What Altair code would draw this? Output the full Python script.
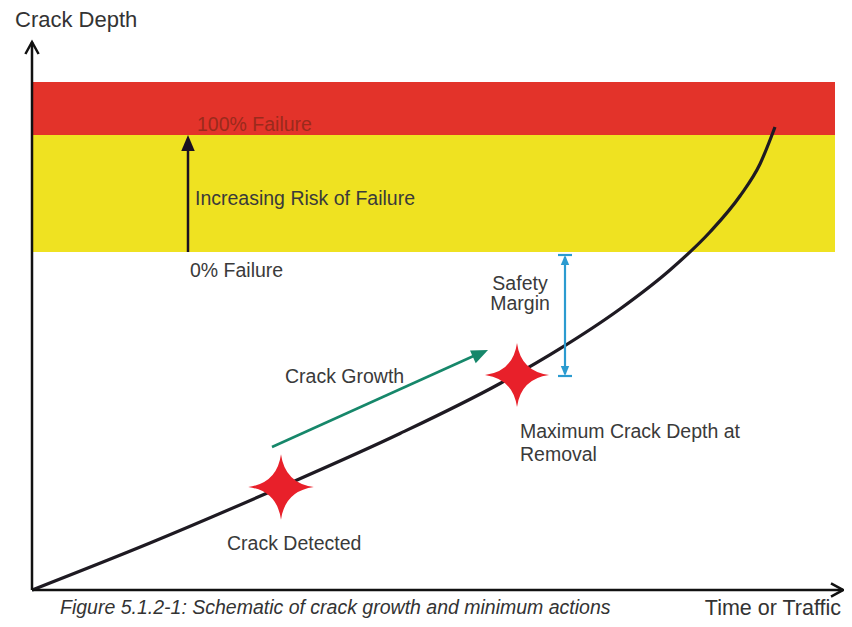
import altair as alt
import pandas as pd

# ---- data (schematic units: origin at the axes corner) ----
curve_x = [0, 118, 249, 368, 468, 528, 588, 638, 678, 708, 728, 743]
curve_y = [0, 47, 103, 156.5, 206.5, 241.3, 281, 320, 358, 394, 426, 463]

band_names = ["100% Failure", "Increasing Risk"]
band_x0 = [0, 0]
band_x1 = [803, 803]
band_y0 = [455, 338]
band_y1 = [508, 455]
band_colors = ["#e3332a", "#efe221"]

seg_x = [0, 0, 156, 240, 533, 526, 526]
seg_y = [0, 0, 338, 143, 216, 335, 214]
seg_x2 = [0, 811, 156, 446, 533, 540, 540]
seg_y2 = [548, 0, 445, 236, 333, 335, 214]
seg_color = ["#111111", "#111111", "#1a1022", "#16876a", "#2b9bd0", "#2b9bd0", "#2b9bd0"]
seg_w = [2.5, 2.5, 2.5, 2.5, 2.2, 2.2, 2.2]

chev_x = [811, 0]
chev_y = [0, 548]
chev_angle = [90, 0]

head_x = [156, 456, 533, 533]
head_y = [455, 240, 335, 214]
head_angle = [0, 65.8, 0, 180]
head_size = [1024, 1100, 400, 400]
head_color = ["#1a1022", "#16876a", "#2b9bd0", "#2b9bd0"]

star_labels = ["Crack Detected", "Maximum Crack Depth at Removal"]
star_x = [249, 485]
star_y = [103, 215]
star_size = [4300, 4100]

label_text = ["100% Failure", "Increasing Risk of Failure", "0% Failure", "Crack Growth",
              "Maximum Crack Depth at", "Removal", "Crack Detected"]
label_x = [165, 163, 158, 253, 488, 488, 195]
label_y = [459, 385, 313, 207, 152, 129, 40]
label_color = ["#9a2a1c", "#3a3a3a", "#3a3a3a", "#3a3a3a", "#3a3a3a", "#3a3a3a", "#3a3a3a"]

center_text = ["Safety", "Margin"]
center_x = [488, 488]
center_y = [300, 280]

y_title = "Crack Depth"
x_title = "Time or Traffic"
caption = "Figure 5.1.2-1: Schematic of crack growth and minimum actions"

# ---- scales ----
X = lambda f: alt.X(f, type="quantitative", scale=alt.Scale(domain=[-24, 812], nice=False, zero=False), axis=None)
Y = lambda f: alt.Y(f, type="quantitative", scale=alt.Scale(domain=[-29, 582], nice=False, zero=False), axis=None)

bands = pd.DataFrame({"name": band_names, "x": band_x0, "x2": band_x1, "y": band_y0, "y2": band_y1, "c": band_colors})
curve = pd.DataFrame({"x": curve_x, "y": curve_y})
segs = pd.DataFrame({"x": seg_x, "y": seg_y, "x2": seg_x2, "y2": seg_y2, "c": seg_color, "w": seg_w})
chevs = pd.DataFrame({"x": chev_x, "y": chev_y, "a": chev_angle})
heads = pd.DataFrame({"x": head_x, "y": head_y, "a": head_angle, "s": head_size, "c": head_color})
stars = pd.DataFrame({"label": star_labels, "x": star_x, "y": star_y, "s": star_size})
labels = pd.DataFrame({"t": label_text, "x": label_x, "y": label_y, "c": label_color})
centers = pd.DataFrame({"t": center_text, "x": center_x, "y": center_y})

FONT = "Liberation Sans"

band_layer = alt.Chart(bands).mark_rect().encode(
    x=X("x"), x2="x2", y=Y("y"), y2="y2", color=alt.Color("c:N", scale=None))

curve_layer = alt.Chart(curve).mark_line(interpolate="monotone", color="#1e1a22", strokeWidth=3.2).encode(
    x=X("x"), y=Y("y"))

seg_layer = alt.Chart(segs).mark_rule().encode(
    x=X("x"), y=Y("y"), x2="x2", y2="y2",
    color=alt.Color("c:N", scale=None), strokeWidth=alt.StrokeWidth("w:Q", scale=None))

chev_layer = alt.Chart(chevs).mark_point(
    shape="M-0.55,1 L0,0 L0.55,1", filled=False, stroke="#111111", strokeWidth=2.5, size=576, opacity=1
).encode(x=X("x"), y=Y("y"), angle=alt.Angle("a:Q", scale=None))

head_layer = alt.Chart(heads).mark_point(
    shape="M0,0 L0.42,1 L-0.42,1 Z", filled=True, opacity=1, strokeWidth=0
).encode(x=X("x"), y=Y("y"), angle=alt.Angle("a:Q", scale=None),
         size=alt.Size("s:Q", scale=None), color=alt.Color("c:N", scale=None))

star_layer = alt.Chart(stars).mark_point(
    shape="M0,-1 Q0.12,-0.12 1,0 Q0.12,0.12 0,1 Q-0.12,0.12 -1,0 Q-0.12,-0.12 0,-1 Z",
    filled=True, color="#e8202a", opacity=1, strokeWidth=0
).encode(x=X("x"), y=Y("y"), size=alt.Size("s:Q", scale=None))

label_layer = alt.Chart(labels).mark_text(
    align="left", baseline="alphabetic", font=FONT, fontSize=19.5
).encode(x=X("x"), y=Y("y"), text="t:N", color=alt.Color("c:N", scale=None))

center_layer = alt.Chart(centers).mark_text(
    align="center", baseline="alphabetic", font=FONT, fontSize=19.5, color="#3a3a3a"
).encode(x=X("x"), y=Y("y"), text="t:N")

titles = pd.DataFrame({"t": [y_title], "x": [-17], "y": [563]})
ytitle_layer = alt.Chart(titles).mark_text(
    align="left", baseline="alphabetic", font=FONT, fontSize=22, color="#333333"
).encode(x=X("x"), y=Y("y"), text="t:N")

xt = pd.DataFrame({"t": [x_title], "x": [809], "y": [-25]})
xtitle_layer = alt.Chart(xt).mark_text(
    align="right", baseline="alphabetic", font=FONT, fontSize=21.5, color="#333333"
).encode(x=X("x"), y=Y("y"), text="t:N")

cap = pd.DataFrame({"t": [caption], "x": [28], "y": [-24]})
cap_layer = alt.Chart(cap).mark_text(
    align="left", baseline="alphabetic", font=FONT, fontSize=19.5, fontStyle="italic", color="#333333"
).encode(x=X("x"), y=Y("y"), text="t:N")

chart = alt.layer(
    band_layer, curve_layer, seg_layer, chev_layer, head_layer, star_layer,
    label_layer, center_layer, ytitle_layer, xtitle_layer, cap_layer
).properties(width=836, height=611, padding=0, autosize="none", background="white"
).configure_view(strokeWidth=0)

chart.save("out.html", embed_options={"renderer": "svg", "actions": False})
